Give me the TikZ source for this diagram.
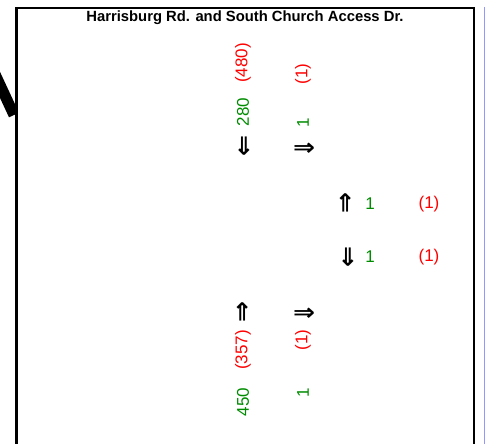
\documentclass[tikz,border=0pt]{standalone}
\usepackage{fontspec}
\usepackage{graphicx}
\setmainfont{Liberation Sans}
\newfontfamily\arrowfont{DejaVu Sans}
\definecolor{vgreen}{RGB}{0,140,0}
\definecolor{vred}{RGB}{255,0,0}
\definecolor{edgeblue}{RGB}{150,150,255}
\newcommand{\vglyph}{\resizebox{21pt}{13.5pt}{\arrowfont\bfseries ⇒}}
\newcommand{\hglyph}{\resizebox{22pt}{12.5pt}{\arrowfont\bfseries ⇒}}
\begin{document}
\begin{tikzpicture}[x=1pt,y=-1pt,
  vol/.style={inner sep=0pt,font=\fontsize{17}{17}\selectfont},
  am/.style={vol,text=vgreen},
  pm/.style={vol,text=vred},
  arr/.style={inner sep=0pt},
  vert/.style={rotate=90}]
\useasboundingbox (0,0) rectangle (485,444);
% thick diagonal stroke at left (clipped by frame)
\begin{scope}
\clip (0,0) rectangle (16,444);
\draw[line width=11pt] (-6,72) -- (14,115);
\end{scope}
% frame
\draw[line width=2.5pt] (16.3,450) -- (16.3,8) -- (474.2,8) -- (474.2,450);
\draw[edgeblue,line width=1pt] (484.3,7) -- (484.3,450);
% title
\node[inner sep=0pt,font=\bfseries\fontsize{14.8}{14.8}\selectfont] (title) at (245,18) {Harrisburg Rd. and South Church Access Dr.};
% north approach
\node[pm,vert] (n480) at (243,63) {(480)};
\node[am,vert] (n280) at (243,112) {280};
\node[pm,vert] (n1p) at (303,74) {(1)};
\node[am,vert] (n1a) at (303,123) {1};
\node[arr,rotate=-90] (sbT) at (243.5,146) {\vglyph};
\node[arr] (sbR) at (304,149) {\hglyph};
% east approach
\node[arr,rotate=90] (ebU) at (347,203) {\vglyph};
\node[am] (e1a) at (370,204) {1};
\node[pm] (e1p) at (429,204) {(1)};
\node[arr,rotate=-90] (ebD) at (347,257) {\vglyph};
\node[am] (e2a) at (370,257) {1};
\node[pm] (e2p) at (429,257) {(1)};
% south approach
\node[arr,rotate=90] (nbT) at (243.5,312) {\vglyph};
\node[arr] (nbR) at (304,314) {\hglyph};
\node[pm,vert] (s357) at (243,350) {(357)};
\node[pm,vert] (s1p) at (303,340) {(1)};
\node[am,vert] (s450) at (243,402) {450};
\node[am,vert] (s1a) at (303,393) {1};
\end{tikzpicture}
\end{document}
